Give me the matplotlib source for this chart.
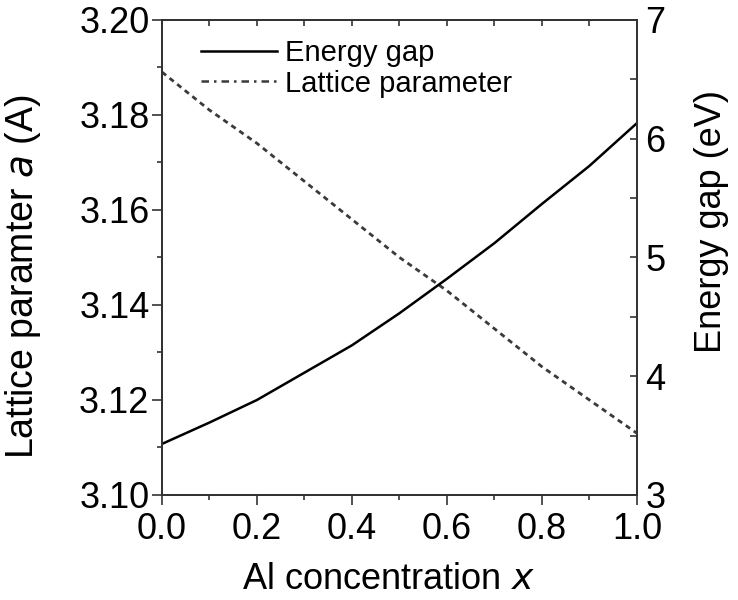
import matplotlib
matplotlib.use("Agg")
import matplotlib.pyplot as plt
from matplotlib.lines import Line2D
from matplotlib.ticker import MultipleLocator

plt.rcParams['font.family'] = ['Liberation Sans', 'DejaVu Sans']

al_x = [0.0, 0.1, 0.2, 0.3, 0.4, 0.5, 0.6, 0.7, 0.8, 0.9, 1.0]
energy_gap = [3.43, 3.61, 3.80, 4.03, 4.26, 4.53, 4.82, 5.12, 5.45, 5.77, 6.13]
lattice_a = [3.189, 3.181, 3.174, 3.166, 3.158, 3.150, 3.143, 3.135, 3.127, 3.120, 3.113]

FS = 26

fig = plt.figure(figsize=(7.38, 6.0), dpi=100)
ax = fig.add_axes([0.2195, 0.175, 0.6435, 0.792])
ax2 = ax.twinx()

ax.plot(al_x, lattice_a, color='#3a3a3a', lw=2.0, dashes=(1.9, 1.6))
ax2.plot(al_x, energy_gap, color='black', lw=1.8)

ax.set_xlim(0, 1)
ax.set_ylim(3.10, 3.20)
ax2.set_ylim(3, 7)
ax.xaxis.set_major_locator(MultipleLocator(0.2))
ax.xaxis.set_minor_locator(MultipleLocator(0.1))
ax.yaxis.set_major_locator(MultipleLocator(0.02))
ax.yaxis.set_minor_locator(MultipleLocator(0.01))
ax2.yaxis.set_major_locator(MultipleLocator(1))
ax2.yaxis.set_minor_locator(MultipleLocator(0.5))
ax.set_yticks(ax.get_yticks())
ax.set_yticklabels([f"{v:.2f}" for v in ax.get_yticks()])
ax.set_xticks(ax.get_xticks())
ax.set_xticklabels([f"{v:.1f}" for v in ax.get_xticks()])
ax.set_xlim(0, 1)
ax.set_ylim(3.10, 3.20)

for a in (ax, ax2):
    for s in a.spines.values():
        s.set_linewidth(1.3)
        s.set_color('#333333')

# left & bottom ticks outward
ax.tick_params(axis='both', which='major', direction='out', length=7, width=1.2,
               labelsize=FS, top=False, right=False, color='#333333')
ax.tick_params(axis='both', which='minor', direction='out', length=3.6, width=1.2,
               top=False, right=False, color='#333333')
ax.tick_params(axis='y', which='major', pad=2)
ax.tick_params(axis='x', which='major', pad=5)

# top ticks inward
top = ax.secondary_xaxis('top')
top.xaxis.set_major_locator(MultipleLocator(0.1))
top.tick_params(axis='x', which='major', direction='in', length=4, width=1.2,
                labeltop=False, color='#333333')
top.spines['top'].set_linewidth(1.3)
top.spines['top'].set_color('#333333')

# right ticks inward
ax2.tick_params(axis='y', which='major', direction='in', length=5, width=1.2,
                labelsize=FS, pad=6, color='#333333')
ax2.tick_params(axis='y', which='minor', direction='in', length=5, width=1.2,
                color='#333333')

ax.set_xlabel('Al concentration $\\it{x}$', fontsize=FS)
ax.xaxis.set_label_coords(0.477, -0.14)
ax.set_ylabel('Lattice paramter $\\it{a}$ (A)', fontsize=27)
ax.yaxis.set_label_coords(-0.25, 0.46)
ax2.set_ylabel('Energy gap (eV)', fontsize=FS)
ax2.yaxis.set_label_coords(1.12, 0.575)

handles = [Line2D([], [], color='black', lw=1.8),
           Line2D([], [], color='#3a3a3a', lw=1.8, dashes=(3, 2, 1, 2))]
ax.legend(handles, ['Energy gap', 'Lattice parameter'], loc='upper left',
          bbox_to_anchor=(0.045, 0.997), frameon=False, fontsize=21,
          handlelength=2.6, handletextpad=0.3, labelspacing=0.1, borderaxespad=0.2)

fig.savefig('out.png', dpi=100)
